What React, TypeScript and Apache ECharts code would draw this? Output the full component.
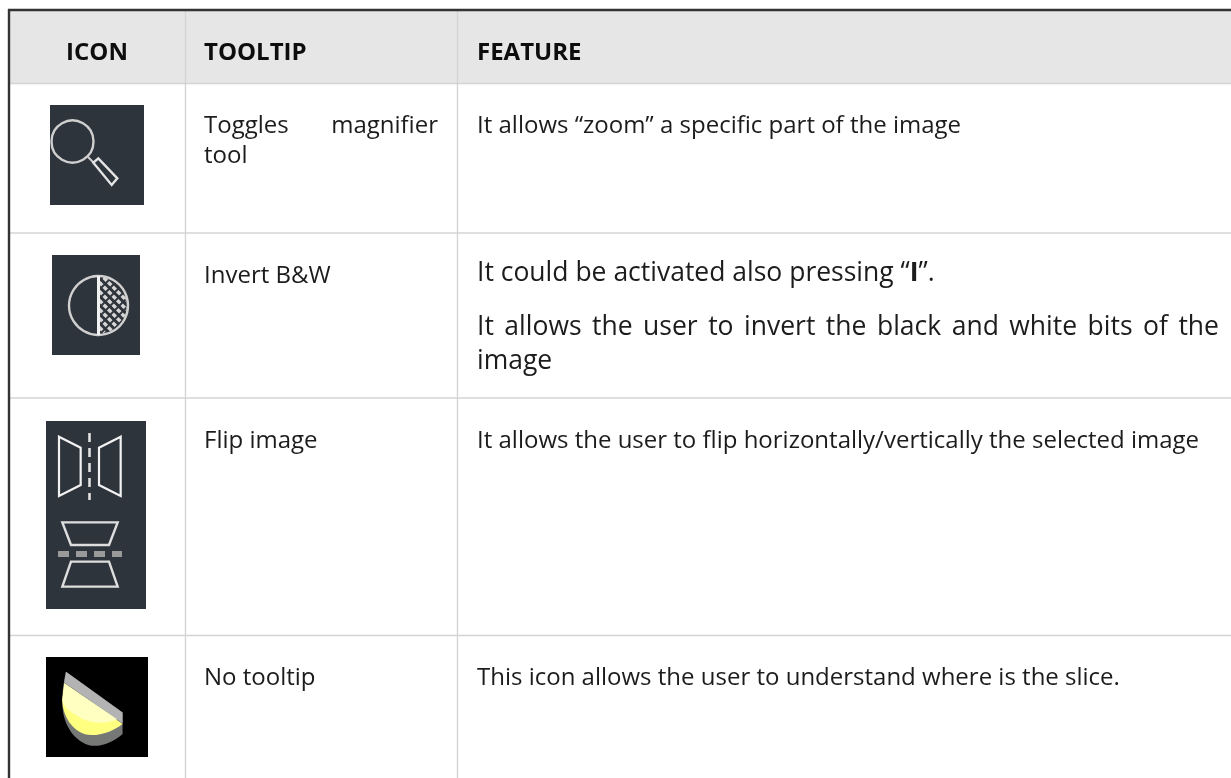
import React, { useEffect, useRef } from "react";
import * as echarts from "echarts";

const FONT = '"Open Sans", "Noto Sans", sans-serif';
const headers = ["ICON", "TOOLTIP", "FEATURE"];
const tooltips = ["Toggles magnifier", "tool", "Invert B&W", "Flip image", "No tooltip"];
const featureZoom = "It allows “zoom” a specific part of the image";
const featureInvertA = "It could be activated also pressing “";
const featureInvertB = "I";
const featureInvertC = "”.";
const featureInvertLine = "It allows the user to invert the black and white bits of the";
const featureInvertEnd = "image";
const featureFlip = "It allows the user to flip horizontally/vertically the selected image";
const featureSlice = "This icon allows the user to understand where is the slice.";
const columnLines = [185.5, 457.5];
const rowLines = [83.5, 233, 398, 635.5];

echarts.graphic.registerShape("sliceBack", echarts.graphic.extendPath("M108 95 L278 218 L278 282 C250 308 205 325 175 315 C130 300 95 250 97 180 C97 150 102 120 108 95 Z", {}));
echarts.graphic.registerShape("sliceTop", echarts.graphic.extendPath("M108 95 L278 218 L278 250 L103 128 Z", {}));
echarts.graphic.registerShape("sliceYellow", echarts.graphic.extendPath("M103 130 L278 252 C250 275 200 292 165 283 C125 270 97 225 97 180 Z", {}));
echarts.graphic.registerShape("sliceLight", echarts.graphic.extendPath("M103 130 L262 238 C225 255 175 250 145 230 C120 215 100 200 97 180 Z", {}));

const WHITE = "#f2f2f2";
const DARK = "#2e343b";
const TEXT = "#1c1c1c";

function txt(x: number, y: number, text: string, size: number, weight = 400, align = "left", fill = TEXT) {
  return { type: "text", x, y, silent: true, style: { text, x: 0, y: 0, fill, font: `${weight} ${size}px ${FONT}`, align, verticalAlign: "middle" } };
}
function measure(s: string, size: number, weight = 400) {
  const c = document.createElement("canvas").getContext("2d")!;
  c.font = `${weight} ${size}px "Open Sans"`;
  return c.measureText(s).width;
}
function justified(line: string, x0: number, x1: number, y: number, size: number) {
  const words = line.split(" ");
  const total = words.reduce((a, w) => a + measure(w, size), 0);
  const gap = (x1 - x0 - total) / (words.length - 1);
  let x = x0;
  return words.map((w) => {
    const t = txt(x, y, w, size);
    x += measure(w, size) + gap;
    return t;
  });
}
function hatch() {
  const out: any[] = [];
  for (const sign of [1, -1]) {
    for (let i = -60; i <= 60; i += 9) {
      const pts: number[][] = [];
      for (let px = 0; px <= 30; px += 1) {
        const py = sign * px + i;
        if (px * px + py * py < 28.5 * 28.5) pts.push([px + 98.5, py + 305.5]);
      }
      if (pts.length > 1) out.push({ type: "polyline", silent: true, shape: { points: pts }, style: { stroke: sign > 0 ? "#d6d6d6" : DARK, lineWidth: sign > 0 ? 3.4 : 1.8, fill: "none" } });
    }
  }
  return out;
}
function poly(pts: number[][], ox: number, oy: number, stroke = WHITE, lw = 2) {
  return { type: "polygon", silent: true, shape: { points: pts.map(([a, b]) => [a / 3 + ox, b / 3 + oy]) }, style: { fill: "none", stroke, lineWidth: lw } };
}
function line(x1: number, y1: number, x2: number, y2: number, stroke: string, lw: number, dash?: number[]) {
  return { type: "line", silent: true, shape: { x1, y1, x2, y2 }, style: { stroke, lineWidth: lw, lineDash: dash } };
}
function rect(x: number, y: number, w: number, h: number, fill: string) {
  return { type: "rect", silent: true, shape: { x, y, width: w, height: h }, style: { fill } };
}
function slice(t: string, fill: string) {
  return { type: t, silent: true, x: 30, y: 640, scaleX: 1 / 3, scaleY: 1 / 3, style: { fill } };
}

export default function App() {
  const ref = useRef<HTMLDivElement>(null);
  useEffect(() => {
    document.body.style.margin = "0";
    document.body.style.background = "#fff";
    const chart = echarts.init(ref.current!, undefined, { renderer: "svg" });
    const S = 24;
    const L = 26.5;
    const [tog, mag] = tooltips[0].split(" ");
    const elements: any[] = [
      rect(0, 0, 1231, 778, "#ffffff"),
      rect(10, 11, 1221, 72, "#e6e6e6"),
      ...rowLines.map((y) => line(10, y, 1231, y, "#d4d4d4", 1.6)),
      ...columnLines.map((x) => line(x, 11, x, 778, "#d4d4d4", 1.4)),
      line(9, 9, 9, 778, "#333333", 2.4),
      line(8, 10, 1231, 10, "#333333", 2.4),

      txt(97, 50, headers[0], 24, 700, "center", "#0d0d0d"),
      txt(204, 50, headers[1], 24, 700, "left", "#0d0d0d"),
      txt(477, 50, headers[2], 24, 700, "left", "#0d0d0d"),

      ...justified(`${tog} ${mag}`, 204, 438, 123.5, S),
      txt(204, 153.5, tooltips[1], S),
      txt(204, 273.5, tooltips[2], S),
      txt(204, 438.5, tooltips[3], S),
      txt(204, 675.5, tooltips[4], S),

      txt(477, 123.5, featureZoom, S),
      txt(477, 271, featureInvertA, L),
      txt(477 + measure(featureInvertA, L), 271, featureInvertB, L, 700),
      txt(477 + measure(featureInvertA, L) + measure(featureInvertB, L, 700), 271, featureInvertC, L),
      ...justified(featureInvertLine, 477, 1219, 325, L),
      txt(477, 359, featureInvertEnd, L),
      txt(477, 438.5, featureFlip, S),
      txt(477, 675.5, featureSlice, S),

      // magnifier icon
      rect(50, 105, 94, 100, DARK),
      { type: "circle", silent: true, shape: { cx: 72.5, cy: 141.5, r: 21 }, style: { fill: "none", stroke: "#cfcfcf", lineWidth: 2.4 } },
      line(88, 157, 94, 163, "#cfcfcf", 2),
      poly([[190, 218], [205, 205], [262, 265], [245, 285]], 30, 90, "#e4e4e4", 2.4),

      // invert icon
      rect(52, 255, 88, 100, DARK),
      ...hatch(),
      { type: "circle", silent: true, shape: { cx: 98.5, cy: 305.5, r: 29.5 }, style: { fill: "none", stroke: "#d0d0d0", lineWidth: 2.4 } },
      line(98.5, 276, 98.5, 335, WHITE, 3),

      // flip icon
      rect(46, 421, 100, 188, DARK),
      poly([[87, 80], [152, 113], [152, 225], [87, 258]], 30, 410, WHITE, 2.2),
      poly([[272, 80], [207, 113], [207, 225], [272, 258]], 30, 410, WHITE, 2.2),
      line(89.5, 433, 89.5, 500, "#e0e0e0", 2.6, [9, 6]),
      poly([[97, 337], [263, 337], [237, 405], [123, 405]], 30, 410, "#dedede", 2.4),
      poly([[123, 455], [237, 455], [263, 530], [97, 530]], 30, 410, "#dedede", 2.4),
      line(58, 554, 122, 554, "#9a9a9a", 6, [11, 7]),

      // slice icon
      rect(46, 657, 102, 100, "#000000"),
      slice("sliceBack", "#767876"),
      slice("sliceTop", "#b3b3b3"),
      slice("sliceYellow", "#ffff80"),
      slice("sliceLight", "#ffffc2"),
    ];
    chart.setOption({ animation: false, graphic: { elements } });
    return () => chart.dispose();
  }, []);
  return <div ref={ref} style={{ position: "fixed", left: 0, top: 0, width: 1231, height: 778 }} />;
}
